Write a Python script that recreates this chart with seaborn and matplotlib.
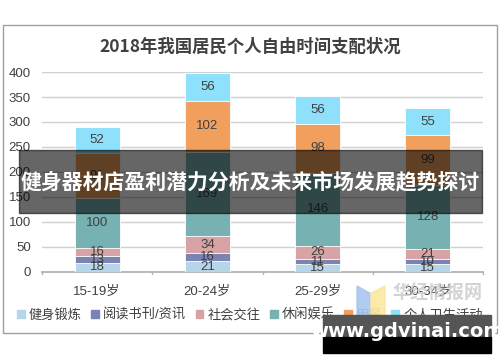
import numpy as np
import pandas as pd
import matplotlib
matplotlib.use("Agg")
import matplotlib.pyplot as plt
from matplotlib.patches import Rectangle, Polygon
import seaborn as sns

# data
ages = ["15-19岁", "20-24岁", "25-29岁", "30-34岁"]
activities = ["健身锻炼", "阅读书刊/资讯", "社会交往", "休闲娱乐", "用餐", "个人卫生活动"]
fitness = [18, 21, 15, 15]
reading = [13, 16, 11, 10]
social = [16, 34, 26, 21]
leisure = [100, 169, 146, 128]
dining = [91, 102, 98, 99]
hygiene = [52, 56, 56, 55]
colors = ["#b7d5e8", "#7b83b2", "#d7a3a4", "#78b1b1", "#f0a05c", "#8fe1fb"]

series = [fitness, reading, social, leisure, dining, hygiene]

sns.set_theme(style="white")
plt.rcParams["font.family"] = ["Liberation Sans", "Noto Sans CJK SC", "DejaVu Sans"]

fig = plt.figure(figsize=(5, 3.62), dpi=100)
ax = fig.add_axes([0.084, 0.249, 0.882, 0.552])

# stacked bars: draw cumulative totals from the top layer down
cum = np.cumsum(np.array(series), axis=0)
for i in range(len(series) - 1, -1, -1):
    df = pd.DataFrame({"age": ages, "v": cum[i]})
    sns.barplot(data=df, x="age", y="v", color=colors[i], saturation=1,
                width=0.41, ax=ax, edgecolor="white", linewidth=0.6, zorder=3)

# segment labels
for i, vals in enumerate(series):
    for j, v in enumerate(vals):
        mid = cum[i][j] - v / 2
        ax.text(j, mid, str(v), ha="center", va="center", fontsize=9.5,
                color="#404040", zorder=4)

ax.set_ylim(0, 400)
ax.set_xlim(-0.5, 3.5)
ax.set_yticks(range(0, 401, 50))
ax.yaxis.grid(True, color="#d0d0d0", linewidth=1, zorder=0)
ax.set_axisbelow(True)
ax.set_xlabel("")
ax.set_ylabel("")
for s in ["top", "right", "left"]:
    ax.spines[s].set_visible(False)
ax.spines["bottom"].set_color("#b0b0b0")
ax.tick_params(axis="y", labelsize=9.5, colors="#404040", length=0, pad=8)
ax.tick_params(axis="x", labelsize=9.5, colors="#404040", length=0, pad=10)
for xb in [-0.5, 0.5, 1.5, 2.5, 3.5]:
    ax.plot([xb, xb], [0, -5], color="#b0b0b0", lw=1, clip_on=False)

# chart border and title
fig.patches.append(Rectangle((0.006, 0.08), 0.988, 0.851, transform=fig.transFigure,
                             fill=False, edgecolor="#a0a0a0", lw=1))
fig.text(0.5, 0.87, "2018年我国居民个人自由时间支配状况", ha="center", va="center",
         fontsize=12.5, fontweight="bold", color="#404040",
         family=["Noto Sans CJK SC"])

# legend
handles = [Rectangle((0, 0), 1, 1, color=c) for c in colors]
fig.legend(handles, activities, loc="center", bbox_to_anchor=(0.5, 0.13), ncol=6,
           frameon=False, fontsize=9.5, handlelength=0.6, handleheight=0.6,
           handletextpad=0.3, columnspacing=0.7, labelcolor="#404040")

# overlay banner
fig.patches.append(Rectangle((0.038, 0.412), 0.926, 0.174, transform=fig.transFigure,
                             color="black", alpha=0.6, zorder=10))
fig.text(0.5, 0.497, "健身器材店盈利潜力分析及未来市场发展趋势探讨", ha="center",
         va="center", fontsize=15, fontweight="bold", color="white", zorder=11,
         family=["Noto Sans CJK SC"])

# watermark
fig.patches.append(Polygon([(0.714, 0.21), (0.74, 0.19), (0.74, 0.11), (0.714, 0.13)],
                           closed=True, transform=fig.transFigure, color="#a8c8f0", alpha=0.9, zorder=9))
fig.patches.append(Polygon([(0.742, 0.19), (0.77, 0.21), (0.77, 0.13), (0.742, 0.11)],
                           closed=True, transform=fig.transFigure, color="#fbe8a0", alpha=0.9, zorder=9))
fig.text(0.875, 0.19, "华经情报网", ha="center", va="center", fontsize=13,
         fontweight="bold", color="#c8c8c8", alpha=0.8, zorder=9,
         family=["Noto Sans CJK SC"])
fig.patches.append(Rectangle((0.646, 0.069), 0.336, 0.061, transform=fig.transFigure,
                             color="#555555", zorder=10))
fig.patches.append(Rectangle((0.646, 0.025), 0.336, 0.045, transform=fig.transFigure,
                             color="black", zorder=10))
fig.text(0.814, 0.085, "www.gdvinai.com", ha="center", va="center", fontsize=14,
         fontweight="bold", color="white", zorder=11, family=["DejaVu Sans"])

fig.savefig("out.png", dpi=100)
